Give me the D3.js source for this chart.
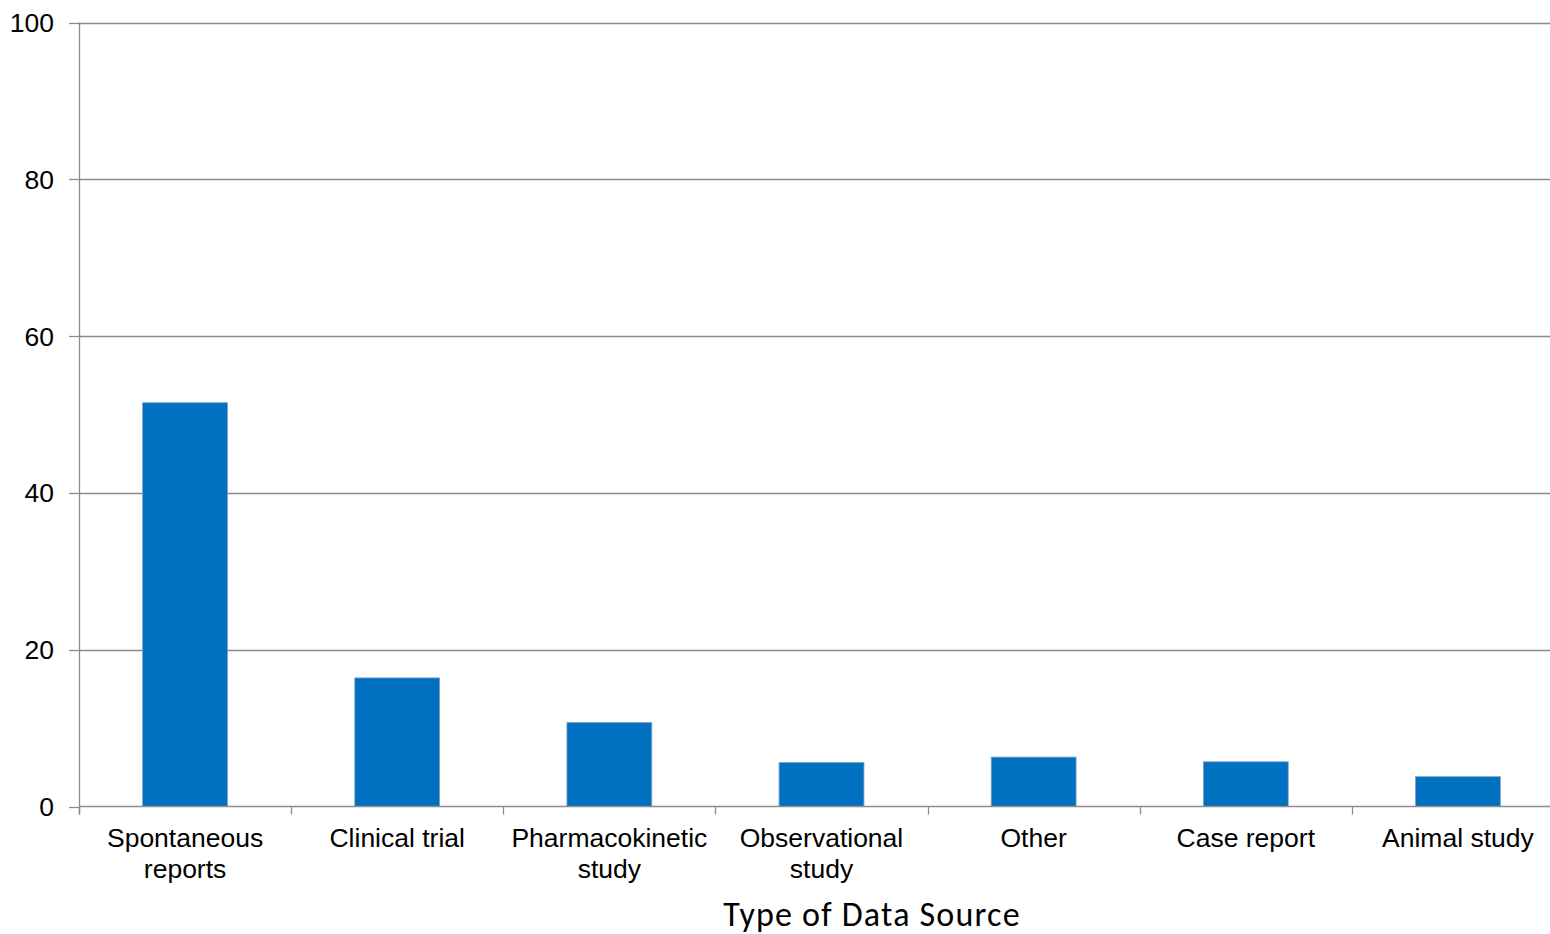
<!DOCTYPE html>
<html>
<head>
<meta charset="utf-8">
<script src="https://cdn.jsdelivr.net/npm/d3@7"></script>
<style>
  html, body { margin: 0; padding: 0; background: #fff; overflow: hidden; }
  svg { display: block; }
</style>
</head>
<body>
<svg id="chart" width="1550" height="934"></svg>
<script>
// Share of records by type of data source (%)
const categories = [
  ["Spontaneous", "reports"],
  ["Clinical trial"],
  ["Pharmacokinetic", "study"],
  ["Observational", "study"],
  ["Other"],
  ["Case report"],
  ["Animal study"]
];
const values = [51.5, 16.4, 10.7, 5.6, 6.3, 5.7, 3.8];
const yTicks = [0, 20, 40, 60, 80, 100];
const xTitle = "Type of Data Source";

const svg = d3.select("#chart");
const plotLeft = 79, plotRight = 1564, plotTop = 22.5, plotBottom = 806.5;

const keys = categories.map((c, i) => i);
const x = d3.scaleBand().domain(keys).range([plotLeft, plotRight]).paddingInner(0.6).paddingOuter(0.3);
const y = d3.scaleLinear().domain([0, 100]).range([plotBottom, plotTop]);
const step = x.step();

const gridColor = "#8c8c8c";
const font = "'Liberation Sans', Arial, sans-serif";

// horizontal gridlines
svg.append("g").selectAll("line").data(yTicks.filter(d => d > 0)).join("line")
  .attr("x1", plotLeft).attr("x2", 1550)
  .attr("y1", d => Math.round(y(d)) + 0.5).attr("y2", d => Math.round(y(d)) + 0.5)
  .attr("stroke", gridColor).attr("stroke-width", 1.3);

// bars
svg.append("g").selectAll("rect").data(values).join("rect")
  .attr("x", (d, i) => x(i))
  .attr("y", d => y(d))
  .attr("width", x.bandwidth())
  .attr("height", d => plotBottom - y(d))
  .attr("fill", "#0070c0")
  .attr("stroke", "#7f9fbf").attr("stroke-width", 0.8);

// y axis
const yAxis = svg.append("g");
yAxis.append("line")
  .attr("x1", plotLeft + 0.5).attr("x2", plotLeft + 0.5)
  .attr("y1", plotTop).attr("y2", plotBottom + 8)
  .attr("stroke", gridColor).attr("stroke-width", 1.3);
yAxis.selectAll("line.tick").data(yTicks).join("line").attr("class", "tick")
  .attr("x1", plotLeft - 10).attr("x2", plotLeft)
  .attr("y1", d => Math.round(y(d)) + 0.5).attr("y2", d => Math.round(y(d)) + 0.5)
  .attr("stroke", gridColor).attr("stroke-width", 1.3);
yAxis.selectAll("text").data(yTicks).join("text")
  .attr("x", 54).attr("y", d => y(d) + 9.5)
  .attr("text-anchor", "end")
  .attr("font-family", font).attr("font-size", 26.5).attr("fill", "#000")
  .text(d => d);

// x axis baseline and category boundary ticks
const xAxis = svg.append("g");
xAxis.append("line")
  .attr("x1", plotLeft).attr("x2", 1550)
  .attr("y1", plotBottom).attr("y2", plotBottom)
  .attr("stroke", gridColor).attr("stroke-width", 1.3);
xAxis.selectAll("line.tick").data(d3.range(categories.length)).join("line").attr("class", "tick")
  .attr("x1", i => Math.round(plotLeft + i * step) + 0.5).attr("x2", i => Math.round(plotLeft + i * step) + 0.5)
  .attr("y1", plotBottom).attr("y2", plotBottom + 8)
  .attr("stroke", gridColor).attr("stroke-width", 1.3);

// category labels
const lbl = xAxis.selectAll("text.cat").data(categories).join("text").attr("class", "cat")
  .attr("x", (d, i) => x(i) + x.bandwidth() / 2)
  .attr("y", 847)
  .attr("text-anchor", "middle")
  .attr("font-family", font).attr("font-size", 26.5).attr("fill", "#000");
lbl.selectAll("tspan").data(d => d).join("tspan")
  .attr("x", function () { return d3.select(this.parentNode).attr("x"); })
  .attr("dy", (d, j) => j === 0 ? 0 : 31)
  .text(d => d);

// axis title
svg.append("text")
  .attr("x", 872).attr("y", 926)
  .attr("text-anchor", "middle")
  .attr("font-family", "Carlito, Lato, 'Open Sans', sans-serif")
  .attr("font-size", 34).attr("letter-spacing", 1.2).attr("fill", "#000")
  .text(xTitle);
</script>
</body>
</html>
